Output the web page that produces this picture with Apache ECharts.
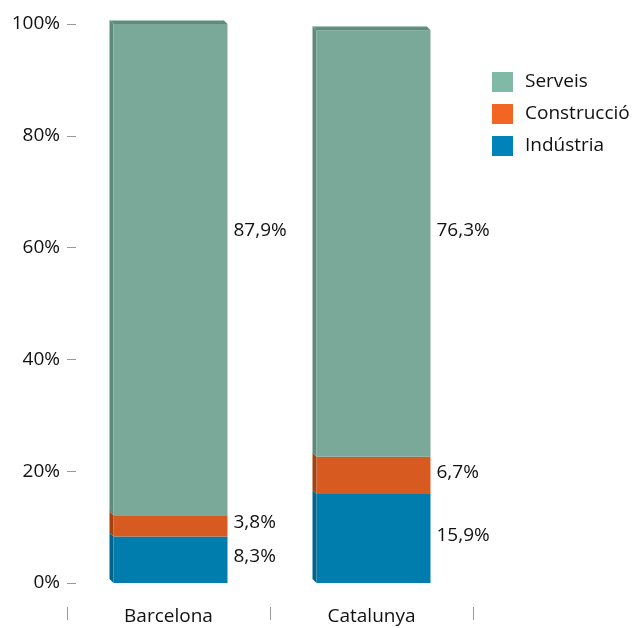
<!DOCTYPE html>
<html><head><meta charset="utf-8">
<script src="https://cdn.jsdelivr.net/npm/echarts@6/dist/echarts.min.js"></script>
<style>html,body{margin:0;padding:0;background:#fff}#c{width:634px;height:628px}</style>
</head><body><div id="c"></div>
<script>
const categories = ['Barcelona', 'Catalunya'];
const seriesNames = ['Indústria', 'Construcció', 'Serveis'];
const industria = [8.3, 15.9];
const construccio = [3.8, 6.7];
const serveis = [87.9, 76.3];
const yTicks = [0, 20, 40, 60, 80, 100];

const FONT = 'Open Sans';
const FS = 19;
const styles = {
  'Indústria':   {front: '#007cad', side: '#00648d', top: '#005f86', legend: '#0083b9'},
  'Construcció': {front: '#d75b20', side: '#a2420f', top: '#a2420f', legend: '#f26522'},
  'Serveis':     {front: '#7aa99a', side: '#5e8b7c', top: '#5e8b7c', legend: '#80b9a6'}
};
const values = [industria, construccio, serveis];

function fmt(v){ return v.toFixed(1).replace('.', ',') + '%'; }

const series = seriesNames.map((name, si) => {
  const data = categories.map((c, ci) => {
    let base = 0;
    for (let k = 0; k < si; k++) base += values[k][ci];
    return [ci, base, values[si][ci]];
  });
  const isTop = si === seriesNames.length - 1;
  const st = styles[name];
  return {
    type: 'custom', name: name,
    itemStyle: {color: st.legend},
    data: data,
    renderItem: function(params, api){
      const cat = api.value(0), base = api.value(1), val = api.value(2);
      const p0 = api.coord([cat, base]);
      const p1 = api.coord([cat, base + val]);
      const bw = 118, d = 4;
      const cx = p0[0];
      const left = cx - bw/2 + d, right = cx + bw/2;
      const yb = p0[1], yt = p1[1];
      const children = [
        {type: 'polygon', shape: {points: [[left, yt], [left, yb], [left - d, yb - d], [left - d, yt - d]]}, style: {fill: st.side}},
        {type: 'rect', shape: {x: left, y: yt, width: right - left, height: yb - yt}, style: {fill: st.front}}
      ];
      if (isTop) {
        children.push({type: 'polygon', shape: {points: [[left, yt], [right, yt], [right - d, yt - d], [left - d, yt - d]]}, style: {fill: st.top}});
        children.push({type: 'line', shape: {x1: left - d, y1: yt - d + 0.5, x2: right - d, y2: yt - d + 0.5}, style: {stroke: '#a9c9bd', lineWidth: 1}});
      }
      let ly;
      if (isTop) ly = api.coord([cat, 63])[1];
      else ly = (yb + yt) / 2 - 3;
      children.push({type: 'text', style: {x: right + 6, y: ly, text: fmt(val), fill: '#111', font: FS + 'px "' + FONT + '"', verticalAlign: 'middle', align: 'left'}});
      return {type: 'group', children: children};
    }
  };
});

const chart = echarts.init(document.getElementById('c'), null, {renderer: 'canvas'});
chart.setOption({
  animation: false,
  textStyle: {fontFamily: FONT},
  grid: {left: 67, right: 161, top: 24, bottom: 45, containLabel: false},
  legend: {
    orient: 'vertical', left: 492, top: 72, padding: 0,
    itemWidth: 21, itemHeight: 20, itemGap: 12,
    data: ['Serveis', 'Construcció', 'Indústria'].map(n => ({name: n, icon: 'rect'})),
    textStyle: {fontSize: FS, color: '#111', fontFamily: FONT, padding: [0, 0, 0, 7]}
  },
  xAxis: {
    type: 'category', data: categories,
    axisLine: {show: false},
    axisTick: {show: true, length: 37, lineStyle: {color: '#999', type: [0, 24, 13, 100]}},
    axisLabel: {margin: 34, verticalAlign: 'middle', fontSize: FS, color: '#111', fontFamily: FONT}
  },
  yAxis: {
    type: 'value', min: yTicks[0], max: yTicks[yTicks.length - 1], interval: yTicks[1] - yTicks[0],
    axisLine: {show: false},
    splitLine: {show: false},
    axisTick: {show: true, inside: true, length: 9, lineStyle: {color: '#999'}},
    axisLabel: {formatter: '{value}%', margin: 7, fontSize: FS, color: '#111', fontFamily: FONT}
  },
  series: series
});
</script></body></html>
